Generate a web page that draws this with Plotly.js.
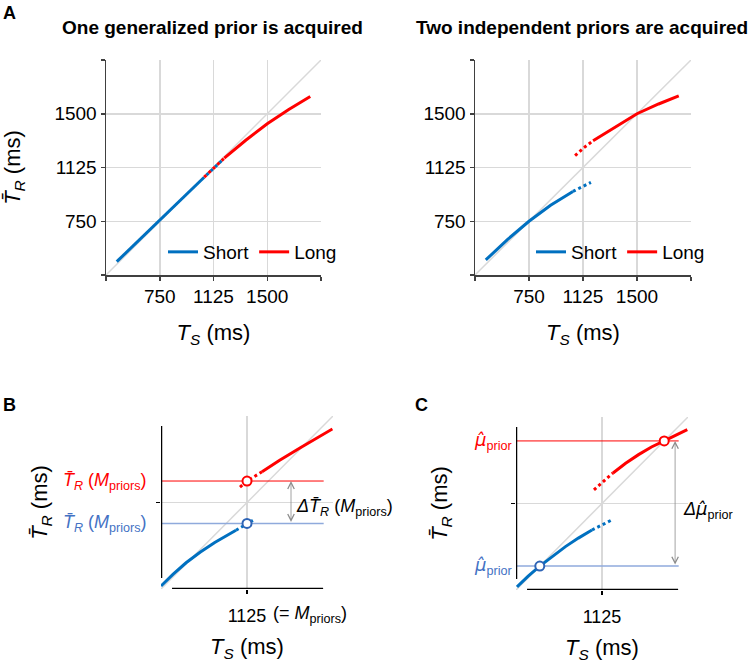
<!DOCTYPE html>
<html>
<head>
<meta charset="utf-8">
<script src="https://cdn.plot.ly/plotly-3.0.1.min.js"></script>
<style>
  html, body { margin: 0; padding: 0; background: #fff; }
  #chart { width: 748px; height: 666px; }
</style>
</head>
<body>
<div id="chart"></div>
<script>
// ---------- Panel A, left: one generalized prior ----------
const aRange = [375, 1875];
const aTicks = [375, 750, 1125, 1500, 1875];
const aTickText = ['', '750', '1125', '1500', ''];

const oneShortX = [450, 600, 750, 900, 1000, 1060];
const oneShortY = [468, 613, 758, 903, 1000, 1057];
const oneShortDotX = [1060, 1125, 1190];
const oneShortDotY = [1057, 1118, 1180];
const oneLongDotX = [1060, 1125, 1200];
const oneLongDotY = [1058, 1120, 1190];
const oneLongX = [1200, 1350, 1500, 1650, 1800];
const oneLongY = [1190, 1315, 1430, 1530, 1620];

// ---------- Panel A, right: two independent priors ----------
const twoShortX = [450, 600, 750, 900, 1055];
const twoShortY = [480, 622, 750, 862, 958];
const twoShortDotX = [1055, 1125, 1180];
const twoShortDotY = [958, 993, 1021];
const twoLongDotX = [1070, 1130, 1195];
const twoLongDotY = [1208, 1262, 1312];
const twoLongX = [1195, 1350, 1500, 1650, 1790];
const twoLongY = [1312, 1405, 1500, 1568, 1625];

// ---------- Panel B: responses at the mean of the priors ----------
const zoomRange = [525, 1725];
const bShortX = [525, 610, 700, 800, 900, 1000, 1048];
const bShortY = [546, 628, 707, 782, 848, 905, 932];
const bShortDotX = [1048, 1090, 1125, 1166];
const bShortDotY = [932, 957, 980, 1001];
const bLongDotX = [1076, 1125, 1230];
const bLongDotY = [1232, 1274, 1338];
const bLongX = [1230, 1350, 1500, 1620, 1721];
const bLongY = [1338, 1416, 1507, 1575, 1635];
const mPriors = 1125;
const bShortAtM = 980;
const bLongAtM = 1274;

// ---------- Panel C: estimated prior means ----------
const cShortX = [532, 610, 691, 780, 870, 960, 1055];
const cShortY = [546, 621, 691, 761, 826, 885, 941];
const cShortDotX = [1055, 1120, 1188];
const cShortDotY = [941, 975, 1008];
const cLongDotX = [1069, 1135, 1202];
const cLongDotY = [1219, 1280, 1337];
const cLongX = [1202, 1290, 1380, 1470, 1559, 1640, 1720];
const cLongY = [1337, 1404, 1464, 1517, 1559, 1597, 1638];
const cShortMean = 691;
const cLongMean = 1559;

// ---------- styling ----------
const BLUE = '#0070C0';
const RED = '#FF0000';
const LIGHT_BLUE = '#8FAADC';
const LABEL_BLUE = '#4472C4';
const GRID = '#D9D9D9';
const FONT = 'Arial, "Liberation Sans", sans-serif';

const W = 748, H = 666;
const hDom = (left, right) => [left / W, right / W];
const vDom = (top, bottom) => [1 - bottom / H, 1 - top / H];

function curve(x, y, xa, ya, color, opts = {}) {
  return Object.assign({
    type: 'scatter', mode: 'lines', x, y, xaxis: xa, yaxis: ya,
    line: { color, width: opts.width || 3, dash: opts.dash || 'solid' },
    showlegend: false, hoverinfo: 'skip'
  }, opts.extra || {});
}

const traces = [];

// Panel A left
traces.push(curve(aRange, aRange, 'x', 'y', GRID, { width: 1.5 }));
traces.push(curve(oneShortX, oneShortY, 'x', 'y', BLUE, { extra: { name: 'Short', showlegend: true, legend: 'legend' } }));
traces.push(curve(oneLongX, oneLongY, 'x', 'y', RED, { extra: { name: 'Long', showlegend: true, legend: 'legend' } }));
traces.push(curve(oneShortDotX, oneShortDotY, 'x', 'y', BLUE, { dash: '0px,3px,3px,0px' }));
traces.push(curve(oneLongDotX, oneLongDotY, 'x', 'y', RED, { dash: '3px,3px' }));

// Panel A right
traces.push(curve(aRange, aRange, 'x2', 'y2', GRID, { width: 1.5 }));
traces.push(curve(twoShortX, twoShortY, 'x2', 'y2', BLUE, { extra: { name: 'Short', showlegend: true, legend: 'legend2' } }));
traces.push(curve(twoLongX, twoLongY, 'x2', 'y2', RED, { extra: { name: 'Long', showlegend: true, legend: 'legend2' } }));
traces.push(curve(twoShortDotX, twoShortDotY, 'x2', 'y2', BLUE, { dash: '3px,3px' }));
traces.push(curve(twoLongDotX, twoLongDotY, 'x2', 'y2', RED, { dash: '3px,3px' }));

// Panel B / C shared extents
const levelSpan = [525, 1660];
const spineSpan = [602, 1656];

// Panel B
traces.push(curve(zoomRange, zoomRange, 'x3', 'y3', GRID, { width: 1.5 }));
traces.push(curve(levelSpan, [bLongAtM, bLongAtM], 'x3', 'y3', RED, { width: 1 }));
traces.push(curve(levelSpan, [bShortAtM, bShortAtM], 'x3', 'y3', LIGHT_BLUE, { width: 1.5 }));
traces.push(curve(bShortX, bShortY, 'x3', 'y3', BLUE));
traces.push(curve(bShortDotX, bShortDotY, 'x3', 'y3', BLUE, { dash: '3px,3px' }));
traces.push(curve(bLongDotX, bLongDotY, 'x3', 'y3', RED, { dash: '3px,3px' }));
traces.push(curve(bLongX, bLongY, 'x3', 'y3', RED));
traces.push({
  type: 'scatter', mode: 'markers', x: [mPriors, mPriors], y: [bLongAtM, bShortAtM],
  xaxis: 'x3', yaxis: 'y3', showlegend: false, hoverinfo: 'skip',
  marker: { symbol: 'circle', size: 9, color: '#fff', line: { color: [RED, '#2E64B6'], width: 2 } }
});

// Panel C
traces.push(curve(zoomRange, zoomRange, 'x4', 'y4', GRID, { width: 1.5 }));
traces.push(curve(levelSpan, [cLongMean, cLongMean], 'x4', 'y4', RED, { width: 1 }));
traces.push(curve(levelSpan, [cShortMean, cShortMean], 'x4', 'y4', LIGHT_BLUE, { width: 1.5 }));
traces.push(curve(cShortX, cShortY, 'x4', 'y4', BLUE));
traces.push(curve(cShortDotX, cShortDotY, 'x4', 'y4', BLUE, { dash: '3px,3px' }));
traces.push(curve(cLongDotX, cLongDotY, 'x4', 'y4', RED, { dash: '3px,3px' }));
traces.push(curve(cLongX, cLongY, 'x4', 'y4', RED));
traces.push({
  type: 'scatter', mode: 'markers', x: [cLongMean, cShortMean], y: [cLongMean, cShortMean],
  xaxis: 'x4', yaxis: 'y4', showlegend: false, hoverinfo: 'skip',
  marker: { symbol: 'circle', size: 9, color: '#fff', line: { color: [RED, '#2E64B6'], width: 2 } }
});

// ---------- axes ----------
const TS = '<i>T</i><sub><i>S</i></sub> (ms)';
const TR = '<i>T\u0304</i><sub><i>R</i></sub> (ms)';

function aAxis(domain, anchor, title, standoff) {
  return {
    domain, anchor, range: aRange, tickmode: 'array', tickvals: aTicks, ticktext: aTickText,
    showgrid: true, gridcolor: GRID, gridwidth: 1.5, zeroline: false,
    showline: true, linecolor: '#404040', linewidth: 1.5,
    ticks: 'outside', ticklen: 4, tickwidth: 1.5, tickcolor: '#404040',
    tickfont: { size: 19, color: '#000' }, fixedrange: true,
    title: title ? { text: title, font: { size: 22, color: '#000' }, standoff } : { text: '' }
  };
}

function zAxis(domain, anchor, labels, title, standoff) {
  return {
    domain, anchor, range: zoomRange, tickmode: 'array', tickvals: [mPriors], ticktext: labels,
    showgrid: true, gridcolor: GRID, gridwidth: 1.5, zeroline: false, showline: false,
    ticks: 'outside', ticklen: 4, tickwidth: 1.5, tickcolor: '#000',
    tickfont: { size: 18, color: '#000' }, ticklabelstandoff: 6, fixedrange: true,
    title: { text: title, font: { size: 22, color: '#000' }, standoff }
  };
}

const spine = (xref, yref, x0, x1, y0, y1) => ({
  type: 'line', xref, yref, x0, x1, y0, y1, layer: 'above', line: { color: '#000', width: 2.5 }
});

// thin two-headed arrow marking the gap between the two levels
function span(xref, yref, x, yTop, yBottom) {
  return {
    xref, yref, axref: xref, ayref: yref, x, y: yTop, ax: x, ay: yBottom, text: '',
    showarrow: true, arrowside: 'end+start', arrowhead: 5, startarrowhead: 5,
    arrowsize: 1.6, startarrowsize: 1.6, arrowwidth: 0.8, arrowcolor: '#8C8C8C'
  };
}

const textAnn = (text, x, y, opts = {}) => Object.assign({
  text, x, y, xref: 'paper', yref: 'paper', showarrow: false,
  xanchor: 'center', yanchor: 'middle', font: { size: 18, color: '#000' }
}, opts);

const px = v => v / W;
const py = v => 1 - v / H;

const TRM = '<i>T\u0304</i><sub><i>R</i></sub> (<i>M</i><sub>priors</sub>)';
// mu with a hat, set in a face that positions combining marks
const MUHAT = '<span style="font-family:\'DejaVu Sans\'"><i>\u03bc\u0302</i></span>';
const MU = MUHAT + '<sub>prior</sub>';

const layout = {
  width: W, height: H, margin: { l: 0, r: 0, t: 0, b: 0 },
  paper_bgcolor: '#fff', plot_bgcolor: 'rgba(0,0,0,0)',
  font: { family: FONT, color: '#000' },
  xaxis: aAxis(hDom(106, 321), 'y', TS, 18),
  yaxis: aAxis(vDom(60, 275), 'x', TR, 28),
  xaxis2: aAxis(hDom(475, 691), 'y2', TS, 18),
  yaxis2: aAxis(vDom(60, 275), 'x2', '', 0),
  xaxis3: zAxis(hDom(161, 333), 'y3', ['1125'], TS, 14),
  yaxis3: zAxis(vDom(416, 589), 'x3', [''], TR, 98),
  xaxis4: zAxis(hDom(516, 688), 'y4', ['1125'], TS, 14),
  yaxis4: zAxis(vDom(417, 590), 'x4', [''], TR, 53),
  legend: {
    orientation: 'h', x: px(342), y: py(252), xanchor: 'right', yanchor: 'middle',
    bgcolor: 'rgba(0,0,0,0)', font: { size: 19, color: '#000' }, itemwidth: 30
  },
  legend2: {
    orientation: 'h', x: px(710), y: py(252), xanchor: 'right', yanchor: 'middle',
    bgcolor: 'rgba(0,0,0,0)', font: { size: 19, color: '#000' }, itemwidth: 30
  },
  shapes: [
    spine('x3', 'y3', 525, 525, spineSpan[0], spineSpan[1]),
    spine('x3', 'y3', spineSpan[0], spineSpan[1], 525, 525),
    spine('x4', 'y4', 525, 525, spineSpan[0], spineSpan[1]),
    spine('x4', 'y4', spineSpan[0], spineSpan[1], 525, 525)
  ],
  annotations: [
    textAnn('<b>A</b>', px(9), py(13), { font: { size: 18, color: '#000' } }),
    textAnn('<b>B</b>', px(9.5), py(405), { font: { size: 18, color: '#000' } }),
    textAnn('<b>C</b>', px(421.5), py(405), { font: { size: 18, color: '#000' } }),
    textAnn('<b>One generalized prior is acquired</b>', px(213), py(27), { font: { size: 19, color: '#000' } }),
    textAnn('<b>Two independent priors are acquired</b>', px(582), py(27), { font: { size: 19, color: '#000' } }),
    // Panel B labels
    textAnn(TRM, px(149), bLongAtM, { yref: 'y3', xanchor: 'right', font: { size: 18, color: RED } }),
    textAnn(TRM, px(149), bShortAtM, { yref: 'y3', xanchor: 'right', font: { size: 18, color: LABEL_BLUE } }),
    span('x3', 'y3', 1432, bLongAtM, bShortAtM),
    textAnn('<i>\u0394T\u0304</i><sub><i>R</i></sub> (<i>M</i><sub>priors</sub>)', px(294), py(507), { xanchor: 'left' }),
    textAnn('(= <i>M</i><sub>priors</sub>)', px(271), py(614), { xanchor: 'left' }),
    // Panel C labels
    textAnn(MU, px(514), cLongMean, { yref: 'y4', xanchor: 'right', font: { size: 18, color: RED } }),
    textAnn(MU, px(514), cShortMean, { yref: 'y4', xanchor: 'right', font: { size: 18, color: LABEL_BLUE } }),
    span('x4', 'y4', 1635, cLongMean, cShortMean),
    textAnn('<i>\u0394</i>' + MUHAT + '<sub>prior</sub>', px(681), py(510), { xanchor: 'left' })
  ]
};

Plotly.newPlot('chart', traces, layout, { displayModeBar: false, staticPlot: true });
</script>
</body>
</html>
